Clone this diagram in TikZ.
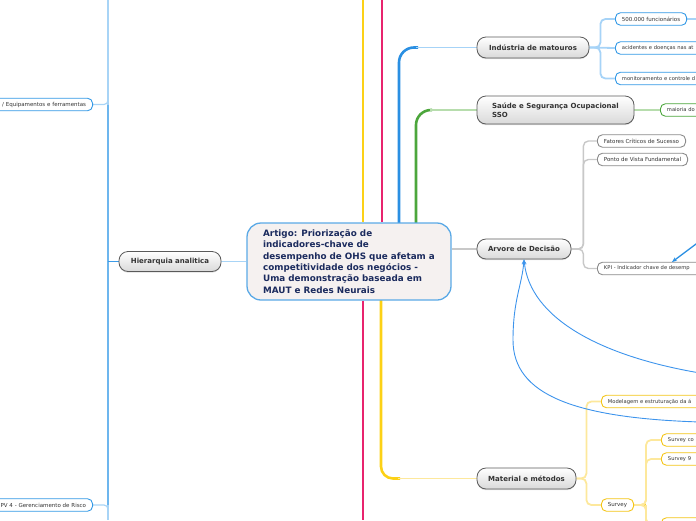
\documentclass[tikz,border=0pt]{standalone}
\usepackage{fontspec}
\setmainfont{DejaVu Sans}
\usetikzlibrary{arrows.meta,shadows,backgrounds}
\definecolor{hlight}{HTML}{A8D4F6}
\definecolor{hdark}{HTML}{6DB6EE}
\definecolor{hmid}{HTML}{3C9BE8}
\definecolor{bluec}{HTML}{2A8FE2}
\definecolor{bluel}{HTML}{A6D3F7}
\definecolor{blueb}{HTML}{3399E6}
\definecolor{greenc}{HTML}{4CA63C}
\definecolor{greenl}{HTML}{B7DDAD}
\definecolor{yellowc}{HTML}{FCD116}
\definecolor{yellowl}{HTML}{FDE89C}
\definecolor{yellowb}{HTML}{F4C518}
\definecolor{pinkc}{HTML}{E8246E}
\definecolor{grayl}{HTML}{C8C8C8}
\definecolor{grayb}{HTML}{8A8A8A}
\definecolor{mainb}{HTML}{5A5A5A}
\definecolor{nodegray}{HTML}{D9D9D9}
\definecolor{textgray}{HTML}{333333}
\definecolor{centerfill}{HTML}{F5F1F0}
\definecolor{centerb}{HTML}{5AA9E6}
\definecolor{navy}{HTML}{1B2B5E}
\definecolor{arrowc}{HTML}{3D94EC}
\tikzset{
  central/.style={draw=centerb, line width=1.3pt, fill=centerfill, rounded corners=14pt,
    minimum width=204pt, minimum height=77pt, align=left, inner sep=0pt,
    font=\fontsize{8.8}{11.4}\selectfont\bfseries, text=navy},
  mainnode/.style={draw=mainb, line width=0.8pt, rounded corners=9pt, top color=white,
    bottom color=nodegray, font=\fontsize{7}{9}\selectfont\bfseries, text=textgray,
    inner sep=0pt, align=left, drop shadow={opacity=0.25, shadow xshift=0pt, shadow yshift=-1.2pt}},
  leaf/.style={draw=#1, line width=0.9pt, rounded corners=5pt, fill=white,
    font=\fontsize{5.5}{6.5}\selectfont, text=textgray, inner xsep=6.5pt, inner ysep=0pt,
    minimum height=12.5pt},
  cutr/.style={text width=#1, align=left, font=\fontsize{5.2}{6.5}\selectfont},
  cutl/.style={text width=#1, align=right},
  thickln/.style={line width=2.6pt},
  conn/.style={line width=1.8pt, rounded corners=5pt},
  arr/.style={draw=arrowc, line width=0.9pt, -{Stealth[length=5pt,width=4pt]}},
}
\begin{document}
\begin{tikzpicture}[x=1pt,y=-1pt]
\useasboundingbox (0,0) rectangle (696,520);
\clip (0,0) rectangle (696,520);

% coordinates for free ends
\coordinate (ltop) at (108,0);
\coordinate (lbot) at (108,520);
\coordinate (ytop) at (363,0);
\coordinate (ptop) at (382,0);
\coordinate (pbot) at (363,520);
\coordinate (c1r) at (700,19);
\coordinate (svb) at (646,530);
\coordinate (kpiSrc) at (700,241);
\coordinate (kpiTip) at (672,262);
\coordinate (cv1) at (700,373);
\coordinate (cv2) at (700,422);

% nodes
\node[central] (c) at (349,261.5) {Artigo: Priorização de\\indicadores-chave de\\desempenho de OHS que afetam a\\competitividade dos negócios -\\Uma demonstração baseada em\\MAUT e Redes Neurais};
\node[mainnode, minimum width=102pt, minimum height=20pt] (hier) at (170,261.5) {Hierarquia analitica};
\node[mainnode, minimum width=112pt, minimum height=21pt] (ind) at (533,47.5) {Indústria de matouros};
\node[mainnode, minimum width=157pt, minimum height=28pt] (sau) at (555.5,110) {Saúde e Segurança Ocupacional\\SSO};
\node[mainnode, minimum width=94pt, minimum height=20pt] (arv) at (524,249) {Arvore de Decisão};
\node[mainnode, minimum width=99pt, minimum height=21pt] (mat) at (526.5,478.5) {Material e métodos};

\node[leaf=blueb, cutl=104pt, anchor=east] (eq) at (93,104.5) {/ Equipamentos e ferramentas};
\node[leaf=blueb, cutl=104pt, anchor=east] (pv) at (93,505) {PV 4 - Gerenciamento de Risco};

\node[leaf=blueb, anchor=west] (c1) at (615,19) {500.000 funcionários};
\node[leaf=blueb, anchor=west, cutr=110pt] (c2) at (615,48) {acidentes e doenças nas at};
\node[leaf=blueb, anchor=west, cutr=110pt] (c3) at (615,78.5) {monitoramento e controle d};
\node[leaf=greenc, anchor=west, cutr=60pt] (m1) at (660,110) {maioria do};
\node[leaf=grayb, anchor=west] (f1) at (597,141) {Fatores Críticos de Sucesso};
\node[leaf=grayb, anchor=west] (f2) at (597,159.5) {Ponto de Vista Fundamental};
\node[leaf=grayb, anchor=west, cutr=120pt] (kpi) at (597,268.5) {KPI - Indicador chave de desemp};
\node[leaf=yellowb, anchor=west, cutr=120pt] (mod) at (601,401.5) {Modelagem e estruturação da á};
\node[leaf=yellowb, anchor=west] (sv) at (601,505) {Survey};
\node[leaf=yellowb, anchor=west, cutr=60pt] (s1) at (661,440) {Survey co};
\node[leaf=yellowb, anchor=west, cutr=60pt] (s2) at (661,459) {Survey 9};
\node[leaf=yellowb, anchor=west, cutr=60pt] (s3) at (661,524) {};

\begin{scope}[on background layer]
% left hierarchy spine
\draw[hlight, line width=1.8pt] (ltop) -- (lbot);
\draw[hdark, line width=1.8pt] (ltop |- eq) -- (lbot |- pv);
\draw[hlight, line width=1.2pt, rounded corners=4pt] (eq.east) -| ([yshift=8pt]ltop |- eq);
\draw[hlight, line width=1.2pt, rounded corners=4pt] (pv.east) -| ([yshift=-8pt]ltop |- pv);
\draw[hmid, line width=1.8pt] (hier.west) -- (ltop |- hier);
\draw[hlight, line width=1.2pt] (c.west) -- (hier.east);

% top and bottom vertical branches
\draw[yellowc, thickln] (ytop) -- (ytop |- c.north);
\draw[pinkc, thickln] (ptop) -- (ptop |- c.north);
\draw[pinkc, thickln] (pbot |- c.south) -- (pbot);
\draw[yellowc, thickln, rounded corners=12pt] (381,300) -- (381,478.5) -- (400,478.5);
\draw[yellowl, line width=1.4pt] (398,478.5) -- (mat.west);

% blue branch to Industria
\draw[bluec, thickln, rounded corners=15pt] (399,223) -- (399,47.5) -- (418,47.5);
\draw[bluel, line width=1.4pt] (416,47.5) -- (ind.west);
% green branch to Saude
\draw[greenc, thickln, rounded corners=15pt] (416,223) -- (416,110) -- (432,110);
\draw[greenl, line width=1.4pt] (430,110) -- (sau.west);
% gray to Arvore
\draw[grayl, line width=1.2pt] (c.east |- arv) -- (arv.west);

% Industria children
\draw[bluel, conn] (ind.east) -- ++(11,0) |- (c1.west);
\draw[bluel, conn] (ind.east) -- ++(11,0) |- (c3.west);
\draw[bluel, conn] (ind.east) -- (c2.west);
\draw[bluel, line width=1.4pt] (c1.east) -- (c1r);
% Saude child
\draw[greenl, line width=1.4pt] (sau.east) -- (m1.west);
% Arvore children
\draw[grayl, line width=1.4pt, rounded corners=5pt] (arv.east) -- ++(12,0) |- (f1.west);
\draw[grayl, line width=1.4pt, rounded corners=5pt] (arv.east) -- ++(12,0) |- (f2.west);
\draw[grayl, line width=1.4pt, rounded corners=5pt] (arv.east) -- ++(12,0) |- (kpi.west);
% Material children
\draw[yellowl, conn] (mat.east) -- ++(10,0) |- (mod.west);
\draw[yellowl, conn] (mat.east) -- ++(10,0) |- (sv.west);
% Survey children
\draw[yellowc, line width=1.8pt] (sv.east) -- ++(12,0);
\draw[yellowl, conn] (sv.east) -- ++(12,0) |- (s1.west);
\draw[yellowl, conn] (sv.east) -- ++(12,0) |- (s2.west);
\draw[yellowl, conn] (sv.east) -- ++(12,0) |- (s3.west);
\draw[yellowl, line width=1.8pt] (sv.east) ++(12,0) -- (svb);
\end{scope}

% relationship arrows
\draw[arr, line width=1.3pt, draw=bluec] (kpiSrc) -- (kpiTip);
\draw[arr] (cv1) .. controls (600,356) and (530,318) .. (arv.south);
\draw[arr] (cv2) .. controls (575,418) and (513,395) .. (513,340) .. controls (513,300) and (522,285) .. (arv.south);
\end{tikzpicture}
\end{document}
